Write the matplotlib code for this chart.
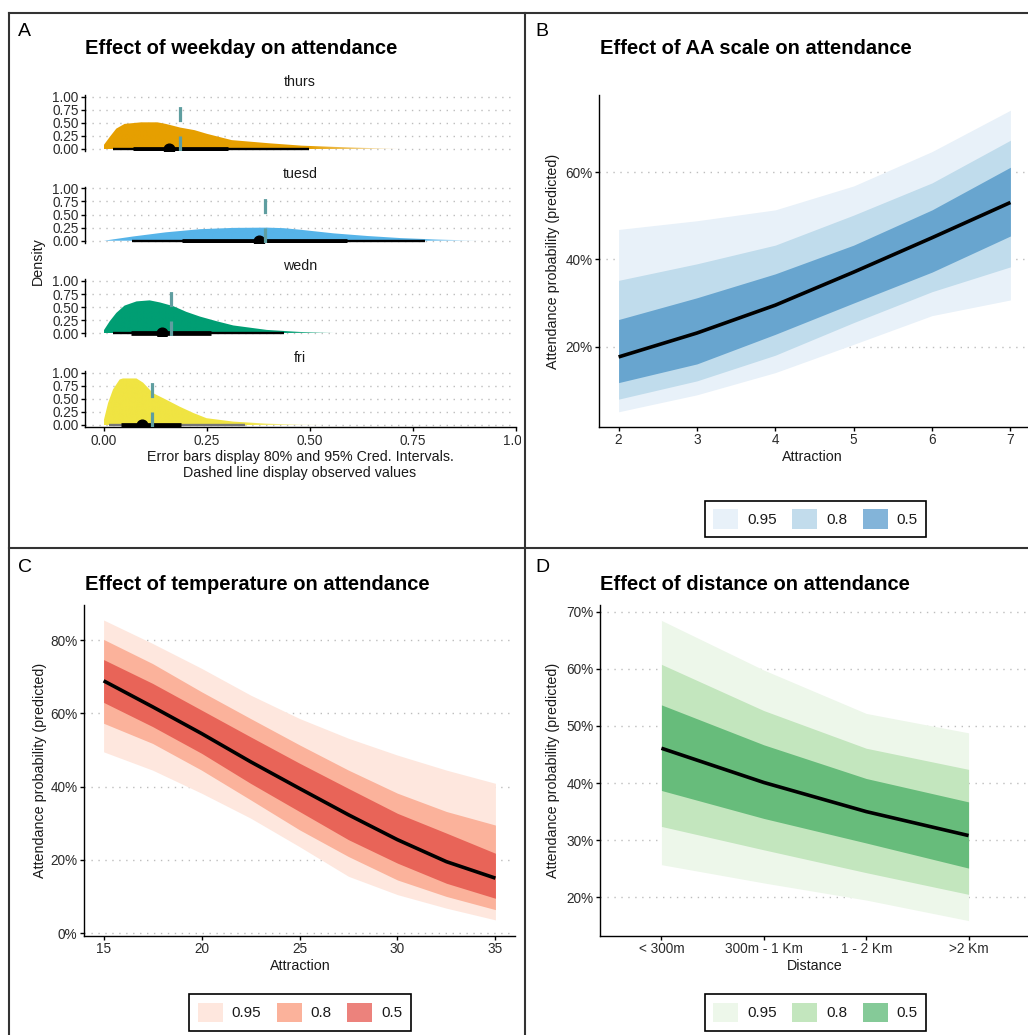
import numpy as np
import matplotlib
matplotlib.use("Agg")
import matplotlib.pyplot as plt
from matplotlib.patches import Patch, Rectangle
from matplotlib.lines import Line2D
from matplotlib.colors import to_rgb

plt.rcParams['font.family'] = ['Liberation Sans', 'DejaVu Sans']

W, H = 1028, 1035

# ---------------- data: panel A (posterior of attendance by weekday) ----------------
days = ['thurs', 'tuesd', 'wedn', 'fri']
day_colors = ['#E69F00', '#56B4E9', '#009E73', '#F0E442']

thurs_x = [0, 0.015, 0.03, 0.05, 0.09, 0.13, 0.15, 0.185, 0.22, 0.25, 0.31, 0.40, 0.48, 0.56, 0.64, 0.72]
thurs_d = [0.08, 0.24, 0.39, 0.48, 0.51, 0.51, 0.48, 0.41, 0.36, 0.29, 0.17, 0.11, 0.064, 0.04, 0.02, 0.0]
tuesd_x = [0, 0.07, 0.15, 0.233, 0.314, 0.395, 0.436, 0.476, 0.558, 0.639, 0.72, 0.80, 0.882, 0.92]
tuesd_d = [0.0, 0.08, 0.16, 0.22, 0.245, 0.25, 0.24, 0.21, 0.14, 0.09, 0.05, 0.025, 0.006, 0.0]
wedn_x = [0, 0.014, 0.03, 0.05, 0.079, 0.111, 0.136, 0.168, 0.20, 0.233, 0.274, 0.314, 0.395, 0.476, 0.558, 0.64]
wedn_d = [0.06, 0.23, 0.39, 0.53, 0.61, 0.63, 0.59, 0.52, 0.41, 0.32, 0.23, 0.15, 0.065, 0.026, 0.006, 0.0]
fri_x = [0, 0.01, 0.022, 0.038, 0.046, 0.079, 0.095, 0.119, 0.152, 0.184, 0.217, 0.249, 0.314, 0.395, 0.476, 0.558]
fri_d = [0.10, 0.42, 0.68, 0.87, 0.89, 0.89, 0.81, 0.61, 0.48, 0.35, 0.23, 0.13, 0.065, 0.026, 0.006, 0.0]
dens_x = [thurs_x, tuesd_x, wedn_x, fri_x]
dens_d = [thurs_d, tuesd_d, wedn_d, fri_d]

day_median = [0.158, 0.377, 0.140, 0.093]
day_lo80 = [0.070, 0.190, 0.065, 0.041]
day_hi80 = [0.300, 0.590, 0.261, 0.186]
day_lo95 = [0.022, 0.067, 0.022, 0.013]
day_hi95 = [0.498, 0.780, 0.437, 0.342]
day_observed = [0.184, 0.392, 0.163, 0.117]
day_int_colors = ['black', 'black', 'black', '#777777']

# ---------------- data: panel B (AA scale) ----------------
aa_x = [2, 3, 4, 5, 6, 7]
aa_med = [17.6, 23.1, 29.5, 37.1, 45.0, 53.1]
aa_lo50 = [11.7, 16.0, 22.8, 30.0, 37.1, 45.4]
aa_hi50 = [26.2, 31.2, 36.7, 43.3, 51.4, 61.2]
aa_lo80 = [7.9, 12.1, 18.0, 25.5, 32.6, 38.3]
aa_hi80 = [35.2, 39.0, 43.3, 50.2, 57.6, 67.4]
aa_lo95 = [5.0, 8.9, 14.0, 20.5, 27.1, 30.7]
aa_hi95 = [46.9, 48.9, 51.4, 56.9, 64.8, 74.3]

# ---------------- data: panel C (temperature) ----------------
temp_x = [15, 17.5, 20, 22.5, 25, 27.5, 30, 32.5, 35]
temp_med = [68.9, 61.8, 54.5, 46.8, 39.5, 32.3, 25.5, 19.5, 15.0]
temp_lo50 = [63.0, 56.4, 49.1, 40.9, 33.2, 25.5, 19.1, 13.6, 9.5]
temp_hi50 = [74.7, 68.2, 60.9, 53.6, 46.4, 39.5, 32.7, 27.3, 21.8]
temp_lo80 = [57.3, 51.8, 44.5, 36.4, 28.2, 20.9, 14.5, 10.0, 6.4]
temp_hi80 = [80.2, 73.6, 65.9, 58.6, 51.4, 44.5, 38.2, 33.2, 29.5]
temp_lo95 = [49.5, 44.5, 38.2, 31.4, 23.6, 15.5, 10.5, 6.8, 3.6]
temp_hi95 = [85.5, 79.1, 72.3, 65.0, 58.6, 53.2, 48.6, 44.5, 40.9]

# ---------------- data: panel D (distance) ----------------
dist_labels = ['< 300m', '300m - 1 Km', '1 - 2 Km', '>2 Km']
dist_med = [46.1, 40.1, 35.0, 30.8]
dist_lo50 = [38.7, 33.8, 29.5, 25.1]
dist_hi50 = [53.7, 46.7, 40.8, 36.7]
dist_lo80 = [32.4, 28.3, 24.3, 20.5]
dist_hi80 = [60.8, 52.7, 46.1, 42.4]
dist_lo95 = [25.7, 22.5, 19.5, 15.9]
dist_hi95 = [68.5, 59.8, 52.2, 48.8]

levels = ['0.95', '0.8', '0.5']
blues_band = ['#E8F1F9', '#C0DCEC', '#68A5CF']
blues_key = ['#E8F1F9', '#C2DCEC', '#83B4D9']
reds_band = ['#FEE7DE', '#FBB29B', '#E86458']
reds_key = ['#FEE7DE', '#FBB29B', '#EC827C']
greens_band = ['#EDF7EA', '#C3E6BE', '#67BC7B']
greens_key = ['#EDF7EA', '#C3E6BE', '#85CA98']

TXT = '#2B2B2B'
GRID = dict(linestyle=(0, (1, 4)), color='#BDBDBD', linewidth=1.0)

fig = plt.figure(figsize=(W / 100, H / 100), dpi=100)


def px_axes(l, t, r, b):
    return fig.add_axes([l / W, 1 - b / H, (r - l) / W, (b - t) / H])


def ftext(x, y, s, **kw):
    return fig.text(x / W, 1 - y / H, s, **kw)


def style(ax, bottom=True):
    for side in ['top', 'right']:
        ax.spines[side].set_visible(False)
    ax.spines['left'].set_linewidth(1.0)
    ax.spines['bottom'].set_linewidth(1.0)
    if not bottom:
        ax.spines['bottom'].set_visible(False)
    ax.tick_params(length=2.8, width=1.0, color='black', labelcolor=TXT,
                   labelsize=9.8, pad=1.8, bottom=bottom, labelbottom=bottom)
    ax.yaxis.grid(True, **GRID)
    ax.set_axisbelow(True)


# ---------------- panel A ----------------
zero_y = [149, 240.7, 333.3, 425]
unit = 52.3
for i, day in enumerate(days):
    last = i == len(days) - 1
    ax = px_axes(85, zero_y[i] - 1.03 * unit, 516, zero_y[i] + 0.045 * unit)
    style(ax, bottom=last)
    # slab: solid inside the 95% interval, fading out along the right tail
    slab = ax.fill_between(dens_x[i], 0, dens_d[i], color='none', linewidth=0)
    x0, x1 = dens_x[i][0], dens_x[i][-1]
    gx = np.linspace(x0, x1, 300)
    alpha = np.clip(1 - (gx - day_hi95[i]) / (x1 - day_hi95[i]) * 0.9, 0.1, 1)
    rgba = np.zeros((1, gx.size, 4))
    rgba[0, :, :3] = to_rgb(day_colors[i])
    rgba[0, :, 3] = alpha
    im = ax.imshow(rgba, extent=[x0, x1, 0, 1], aspect='auto', origin='lower',
                   interpolation='bilinear', zorder=2)
    im.set_clip_path(slab.get_paths()[0], transform=ax.transData)
    ax.plot([day_lo95[i], day_hi95[i]], [0, 0], color=day_int_colors[i], lw=1.7,
            solid_capstyle='butt', zorder=3)
    ax.plot([day_lo80[i], day_hi80[i]], [0, 0], color='black', lw=3.4,
            solid_capstyle='butt', zorder=4)
    ax.plot([day_median[i]], [0], 'o', color='black', ms=7.7, zorder=5)
    ax.vlines(day_observed[i], -0.045, 0.82, colors='#5F9EA0', lw=2.3,
              linestyles=(0, (4.7, 4.5)), zorder=6)
    ax.set_xlim(-0.046, 1.0)
    ax.set_ylim(-0.045, 1.03)
    ax.set_yticks([0, 0.25, 0.5, 0.75, 1.0])
    ax.set_yticklabels(['0.00', '0.25', '0.50', '0.75', '1.00'])
    ax.set_xticks([0, 0.25, 0.5, 0.75, 1.0])
    ax.set_xticklabels(['0.00', '0.25', '0.50', '0.75', '1.00'])
    ax.xaxis.grid(False)
    ftext(300, zero_y[i] - 67, day, ha='center', va='center', fontsize=10.3, color='#1A1A1A')

ftext(300, 465, 'Error bars display 80% and 95% Cred. Intervals.\nDashed line display observed values',
      ha='center', va='center', fontsize=10.3, color='#1A1A1A', linespacing=1.15)
ftext(38, 261, 'Density', ha='center', va='center', rotation=90, fontsize=10.3, color='#1A1A1A')


def bands(ax, x, lo95, hi95, lo80, hi80, lo50, hi50, med, cols):
    ax.fill_between(x, lo95, hi95, color=cols[0], linewidth=0, zorder=2)
    ax.fill_between(x, lo80, hi80, color=cols[1], linewidth=0, zorder=3)
    ax.fill_between(x, lo50, hi50, color=cols[2], linewidth=0, zorder=4)
    ax.plot(x, med, color='black', lw=2.6, zorder=5, solid_capstyle='butt')


def key(cx, cy, cols):
    handles = [Patch(facecolor=c, edgecolor='none') for c in cols]
    leg = fig.legend(handles, levels, loc='center', bbox_to_anchor=(cx / W, 1 - cy / H),
                     ncol=3, frameon=True, fancybox=False, framealpha=1, edgecolor='black',
                     fontsize=11, handlelength=1.63, handleheight=1.63, handletextpad=0.6,
                     columnspacing=1.0, borderpad=0.55)
    leg.get_frame().set_linewidth(1.2)
    for t in leg.get_texts():
        t.set_color('#1A1A1A')


def pct(ax, ticks):
    ax.set_yticks(ticks)
    ax.set_yticklabels([f'{t}%' for t in ticks])


# ---------------- panel B ----------------
axb = px_axes(599, 95, 1030, 427)
style(axb)
bands(axb, aa_x, aa_lo95, aa_hi95, aa_lo80, aa_hi80, aa_lo50, aa_hi50, aa_med, blues_band)
axb.set_xlim(1.75, 7.25)
axb.set_ylim(1.5, 77.8)
axb.set_xticks(aa_x)
pct(axb, [20, 40, 60])
ftext(812, 457, 'Attraction', ha='center', va='center', fontsize=10.3, color='#1A1A1A')
ftext(553, 261, 'Attendance probability (predicted)', ha='center', va='center', rotation=90,
      fontsize=10.3, color='#1A1A1A')
key(815.5, 519, blues_key)

# ---------------- panel C ----------------
axc = px_axes(84, 605, 515, 936)
style(axc)
bands(axc, temp_x, temp_lo95, temp_hi95, temp_lo80, temp_hi80, temp_lo50, temp_hi50, temp_med, reds_band)
axc.set_xlim(14, 36)
axc.set_ylim(-0.8, 89.6)
axc.set_xticks([15, 20, 25, 30, 35])
pct(axc, [0, 20, 40, 60, 80])
ftext(300, 966, 'Attraction', ha='center', va='center', fontsize=10.3, color='#1A1A1A')
ftext(40, 770, 'Attendance probability (predicted)', ha='center', va='center', rotation=90,
      fontsize=10.3, color='#1A1A1A')
key(300, 1012.5, reds_key)

# ---------------- panel D ----------------
axd = px_axes(600, 605, 1030, 936)
style(axd)
dist_pos = np.arange(1, len(dist_labels) + 1)
bands(axd, dist_pos, dist_lo95, dist_hi95, dist_lo80, dist_hi80, dist_lo50, dist_hi50, dist_med, greens_band)
axd.set_xlim(0.4, 4.6)
axd.set_ylim(13.2, 71.2)
axd.set_xticks(dist_pos)
axd.set_xticklabels(dist_labels)
pct(axd, [20, 30, 40, 50, 60, 70])
ftext(815, 966, 'Distance', ha='center', va='center', fontsize=10.3, color='#1A1A1A')
ftext(553, 770, 'Attendance probability (predicted)', ha='center', va='center', rotation=90,
      fontsize=10.3, color='#1A1A1A')
key(815.5, 1012.5, greens_key)

# ---------------- titles and tags ----------------
titles = ['Effect of weekday on attendance', 'Effect of AA scale on attendance',
          'Effect of temperature on attendance', 'Effect of distance on attendance']
title_pos = [(85, 48), (600, 48), (85, 585), (600, 585)]
tags = ['A', 'B', 'C', 'D']
tag_pos = [(18, 32), (535, 31), (18, 568), (535, 568)]
for s, (x, y) in zip(titles, title_pos):
    ftext(x, y, s, ha='left', va='center', fontsize=14.5, fontweight='bold', color='black')
for s, (x, y) in zip(tags, tag_pos):
    ftext(x, y, s, ha='left', va='center', fontsize=14, color='black')

# clip the overflowing "1.00" label of panel A and draw the panel frame
fig.add_artist(Rectangle((521 / W, 1 - 452 / H), 14 / W, 22 / H, transform=fig.transFigure,
                         facecolor='white', edgecolor='none', zorder=10))
frame = dict(color='#333333', lw=1.5, zorder=11, transform=fig.transFigure)
fig.add_artist(Line2D([9 / W, 1], [1 - 13 / H] * 2, **frame))
fig.add_artist(Line2D([9 / W] * 2, [0, 1 - 13 / H], **frame))
fig.add_artist(Line2D([525 / W] * 2, [0, 1 - 13 / H], **frame))
fig.add_artist(Line2D([9 / W, 1], [1 - 548 / H] * 2, **frame))

fig.savefig('out.png', dpi=100, facecolor='white')
